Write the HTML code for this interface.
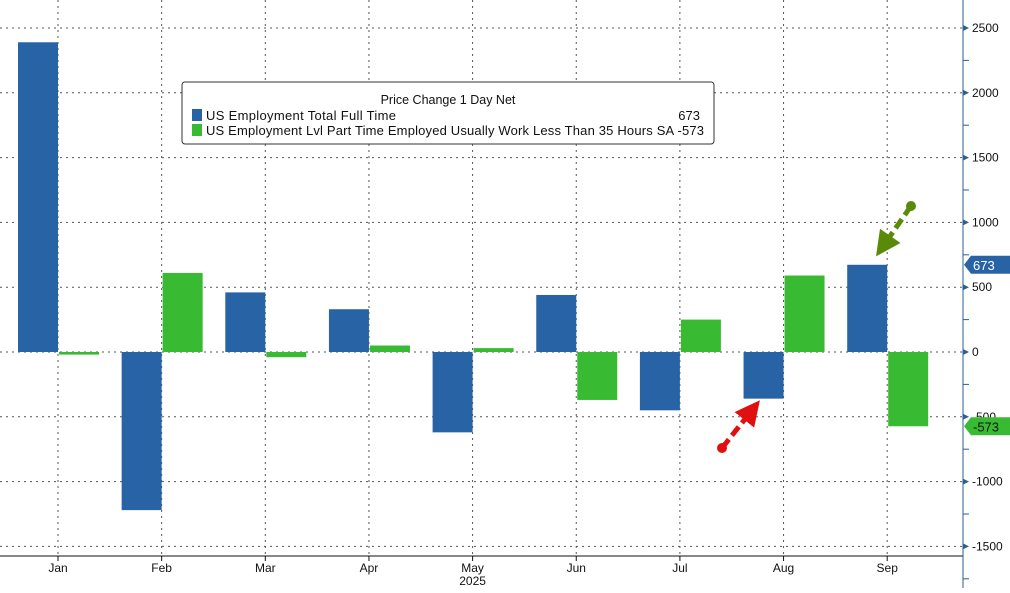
<!DOCTYPE html>
<html><head><meta charset="utf-8"><style>
body{margin:0;background:#fff;font-family:"Liberation Sans",sans-serif}
svg text{font-family:"Liberation Sans",sans-serif}
</style></head><body>
<svg id="c" width="1010" height="588" xmlns="http://www.w3.org/2000/svg">
<defs>
<marker id="ag" markerWidth="5" markerHeight="5" refX="1.5" refY="2.5" orient="auto"><path d="M0,0L5,2.5L0,5z" fill="#5a8a0a"/></marker>
<marker id="ar" markerWidth="5" markerHeight="5" refX="1.5" refY="2.5" orient="auto"><path d="M0,0L5,2.5L0,5z" fill="#e01010"/></marker>
</defs>
<g id="grid"></g><g id="bars"></g><g id="axis"></g>
<g>
<rect x="182" y="82" width="532" height="62" fill="#fff" stroke="#333" rx="3"/>
<text x="448" y="104" font-size="12.5" text-anchor="middle" fill="#111">Price Change 1 Day Net</text>
<rect x="192" y="109" width="10" height="12" fill="#2864a5"/>
<text x="206" y="120" font-size="13" fill="#111" textLength="190">US Employment Total Full Time</text>
<text x="700" y="120" font-size="13" fill="#111" text-anchor="end">673</text>
<rect x="192" y="124" width="10" height="12" fill="#38bb33"/>
<text x="206" y="135" font-size="13" fill="#111" textLength="498">US Employment Lvl Part Time Employed Usually Work Less Than 35 Hours SA -573</text>
</g>
<line x1="911" y1="206" x2="886" y2="242" stroke="#5a8a0a" stroke-width="5" stroke-dasharray="11,5" marker-end="url(#ag)"/>
<circle cx="911" cy="206" r="5" fill="#5a8a0a"/>
<line x1="722" y1="448" x2="749" y2="414" stroke="#e01010" stroke-width="5" stroke-dasharray="11,5" marker-end="url(#ar)"/>
<circle cx="722" cy="448" r="5" fill="#e01010"/>
</svg>
<script>
const months=["Jan","Feb","Mar","Apr","May","Jun","Jul","Aug","Sep"];
const fullTime=[2390,-1220,460,330,-620,440,-450,-360,673];
const partTime=[-20,610,-40,50,30,-370,250,590,-573];
const yTicks=[2500,2000,1500,1000,500,0,-500,-1000,-1500];
const NS="http://www.w3.org/2000/svg";
const y=v=>352-v*0.1296;
const x=i=>58+i*103.65;
function mk(t,a,p){const e=document.createElementNS(NS,t);for(const k in a)e.setAttribute(k,a[k]);p.appendChild(e);return e;}
const g=document.getElementById('grid'),b=document.getElementById('bars'),ax=document.getElementById('axis');
yTicks.forEach(v=>{
 const l=mk('line',{x1:0,x2:963,y1:y(v),y2:y(v),stroke:'#555','stroke-dasharray':'2,4','stroke-width':1},g);
 
 
 mk('path',{d:`M963,${y(v)-3}L969,${y(v)}L963,${y(v)+3}z`,fill:'#2d5f8f'},ax);
 const t=mk('text',{x:972,y:y(v)+4,'font-size':12,fill:'#111'},ax);t.textContent=v;
 
 
});
for(let v=-1750;v<=2750;v+=250){if(v%500)mk('line',{x1:963,x2:969,y1:y(v),y2:y(v),stroke:'#2d5f8f'},ax);}
months.forEach((m,i)=>{
 const l=mk('line',{x1:x(i),x2:x(i),y1:0,y2:556,stroke:'#555','stroke-dasharray':'2,4'},g);
 
 
 const v1=fullTime[i],v2=partTime[i];
 const r1=mk('rect',{x:x(i)-40,width:40,y:Math.min(y(v1),y(0)),height:Math.abs(y(v1)-y(0)),fill:'#2864a5'},b);
 
 
 const r2=mk('rect',{x:x(i)+1,width:40,y:Math.min(y(v2),y(0)),height:Math.max(2,Math.abs(y(v2)-y(0))),fill:'#38bb33'},b);
 
 
 mk('line',{x1:x(i),x2:x(i),y1:556,y2:561,stroke:'#111'},ax);
 const t=mk('text',{x:x(i),y:572,'font-size':12,'text-anchor':'middle',fill:'#111'},ax);t.textContent=m;
 
 
});
mk('line',{x1:0,x2:963,y1:556,y2:556,stroke:'#111'},ax);
mk('line',{x1:963,x2:963,y1:0,y2:588,stroke:'#2d5f8f'},ax);
const yr=mk('text',{x:x(4),y:585,'font-size':12,'text-anchor':'middle',fill:'#111'},ax);yr.textContent='2025';


function tag(v,c,tc){
 const yy=y(v);
 const p=mk('path',{d:`M964,${yy}L971,${yy-9}H1010V${yy+9}H971z`,fill:c},ax);
 
 
 const t=mk('text',{x:973,y:yy+5,'font-size':13,fill:tc},ax);t.textContent=v;
}
tag(fullTime[8],'#2864a5','#fff');
tag(partTime[8],'#38bb33','#111');
</script>
</body></html>
